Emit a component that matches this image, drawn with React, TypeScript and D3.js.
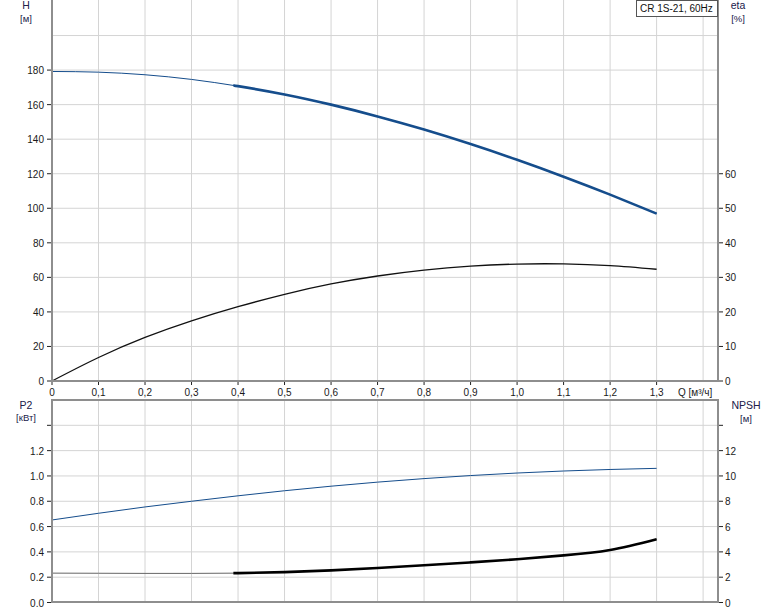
import * as d3 from "d3";

// flow rate Q [m3/h]
const flow = [0, 0.1, 0.2, 0.3, 0.4, 0.5, 0.6, 0.7, 0.8, 0.9, 1.0, 1.1, 1.2, 1.3];
// head H [m]
const head = [179.2, 178.8, 177.3, 174.6, 170.7, 165.9, 160.0, 153.2, 145.6, 137.2, 128.1, 118.3, 107.9, 96.9];
// efficiency eta [%]
const eta = [0, 6.8, 12.6, 17.4, 21.5, 25.1, 28.1, 30.4, 32.1, 33.25, 33.85, 33.9, 33.4, 32.35];
// power P2 [kW]
const power = [0.652, 0.705, 0.755, 0.8, 0.843, 0.883, 0.919, 0.951, 0.979, 1.003, 1.023, 1.039, 1.051, 1.06];
// NPSH [m]
const npsh = [2.32, 2.31, 2.3, 2.3, 2.32, 2.4, 2.54, 2.73, 2.94, 3.17, 3.42, 3.72, 4.15, 5.0];

const xTicks = [0, 0.1, 0.2, 0.3, 0.4, 0.5, 0.6, 0.7, 0.8, 0.9, 1.0, 1.1, 1.2, 1.3];
const xGrid = [0.1, 0.2, 0.3, 0.4, 0.5, 0.6, 0.7, 0.8, 0.9, 1.0, 1.1, 1.2, 1.3, 1.4];
const headTicks = [0, 20, 40, 60, 80, 100, 120, 140, 160, 180];
const headGrid = [20, 40, 60, 80, 100, 120, 140, 160, 180, 200];
const etaTicks = [0, 10, 20, 30, 40, 50, 60];
const powerTicks = [0, 0.2, 0.4, 0.6, 0.8, 1.0, 1.2, 1.4];
const npshTicks = [0, 2, 4, 6, 8, 10, 12, 14];

const title = "CR 1S-21, 60Hz";
const dutyStart = 0.39;

const W = 774;
const H = 611;
const left = 52;
const right = 718;

const font = "Arial, 'Liberation Sans', sans-serif";
const axisGrey = "#8e8e8e";
const gridGrey = "#d4d4d4";
const labelInk = "#20204a";
const blue = "#154d8c";

export default function App() {
  const x = d3.scaleLinear().domain([0, 1.432]).range([left, right]);
  const yH = d3.scaleLinear().domain([0, 220]).range([381, 1]);
  const yEta = d3.scaleLinear().domain([0, 110]).range([381, 1]);
  const yP = d3.scaleLinear().domain([0, 1.6]).range([602.5, 400]);
  const yN = d3.scaleLinear().domain([0, 16]).range([602.5, 400]);

  const line = (ys: number[], y: d3.ScaleLinear<number, number>) =>
    d3
      .line<number>()
      .x((_, i) => x(flow[i]))
      .y((d) => y(d))
      .curve(d3.curveNatural)(ys) as string;

  const headPath = line(head, yH);
  const etaPath = line(eta, yEta);
  const powerPath = line(power, yP);
  const npshPath = line(npsh, yN);

  const fmtComma = (v: number) => (v === 0 ? "0" : d3.format(".1f")(v).replace(".", ","));

  return (
    <svg
      width={W}
      height={H}
      style={{ position: "absolute", left: 0, top: 0, display: "block", background: "#fff" }}
      fontFamily={font}
    >
      <defs>
        <clipPath id="duty">
          <rect x={x(dutyStart)} y={0} width={right - x(dutyStart)} height={H} />
        </clipPath>
      </defs>

      {/* grids */}
      <g stroke={gridGrey} strokeWidth={1}>
        {xGrid.map((v) => (
          <line key={"tv" + v} x1={x(v)} x2={x(v)} y1={0} y2={381} />
        ))}
        {headGrid.map((v) => (
          <line key={"th" + v} x1={left} x2={right} y1={yH(v)} y2={yH(v)} />
        ))}
        {xGrid.map((v) => (
          <line key={"bv" + v} x1={x(v)} x2={x(v)} y1={400} y2={602} />
        ))}
        {powerTicks.slice(1).map((v) => (
          <line key={"bh" + v} x1={left} x2={right} y1={yP(v)} y2={yP(v)} />
        ))}
      </g>

      {/* curves */}
      <path d={etaPath} fill="none" stroke="#111" strokeWidth={1.3} />
      <path d={headPath} fill="none" stroke={blue} strokeWidth={1} />
      <path d={headPath} fill="none" stroke={blue} strokeWidth={2.6} clipPath="url(#duty)" />
      <path d={powerPath} fill="none" stroke={blue} strokeWidth={1} />
      <path d={npshPath} fill="none" stroke="#666" strokeWidth={1} />
      <path d={npshPath} fill="none" stroke="#000" strokeWidth={2.6} clipPath="url(#duty)" />

      {/* axes frames */}
      <g stroke={axisGrey} strokeWidth={2} fill="none">
        <line x1={left} x2={left} y1={0} y2={382} />
        <line x1={right} x2={right} y1={0} y2={382} />
        <line x1={left - 1} x2={right + 1} y1={381} y2={381} />
        <line x1={left} x2={left} y1={399} y2={603} />
        <line x1={right} x2={right} y1={399} y2={603} />
        <line x1={left - 1} x2={right + 1} y1={400} y2={400} />
        <line x1={left - 1} x2={right + 1} y1={602} y2={602} />
      </g>

      {/* ticks */}
      <g stroke="#222" strokeWidth={1}>
        {headTicks.map((v) => (
          <line key={"lt" + v} x1={left - 5} x2={left - 1} y1={yH(v)} y2={yH(v)} />
        ))}
        {etaTicks.map((v) => (
          <line key={"rt" + v} x1={right + 1} x2={right + 5} y1={yEta(v)} y2={yEta(v)} />
        ))}
        {xTicks.map((v) => (
          <line key={"xt" + v} x1={x(v)} x2={x(v)} y1={382} y2={385} />
        ))}
        {powerTicks.map((v) => (
          <line key={"pt" + v} x1={left - 5} x2={left - 1} y1={yP(v)} y2={yP(v)} />
        ))}
        {npshTicks.map((v) => (
          <line key={"nt" + v} x1={right + 1} x2={right + 5} y1={yN(v)} y2={yN(v)} />
        ))}
      </g>

      {/* tick labels */}
      <g fontSize={10} fill="#1a1a1a">
        {headTicks.map((v) => (
          <text key={"ll" + v} x={left - 8} y={yH(v) + 4} textAnchor="end">
            {v}
          </text>
        ))}
        {etaTicks.map((v) => (
          <text key={"rl" + v} x={right + 7} y={yEta(v) + 4}>
            {v}
          </text>
        ))}
        {xTicks.map((v) => (
          <text key={"xl" + v} x={x(v)} y={396} textAnchor="middle">
            {fmtComma(v)}
          </text>
        ))}
        {powerTicks.slice(0, -1).map((v) => (
          <text key={"pl" + v} x={left - 8} y={yP(v) + 4} textAnchor="end">
            {d3.format(".1f")(v)}
          </text>
        ))}
        {npshTicks.slice(0, -1).map((v) => (
          <text key={"nl" + v} x={right + 7} y={yN(v) + 4}>
            {v}
          </text>
        ))}
        <text x={678} y={396}>
          Q [м³/ч]
        </text>
      </g>

      {/* axis names */}
      <g fontSize={10.5} fill={labelInk} textAnchor="middle">
        <text x={26} y={9}>H</text>
        <text x={26} y={22} fontSize={9.5}>[м]</text>
        <text x={738} y={9}>eta</text>
        <text x={738} y={22} fontSize={9.5}>[%]</text>
        <text x={26} y={409}>P2</text>
        <text x={26} y={421} fontSize={9.5}>[кВт]</text>
        <text x={746} y={409}>NPSH</text>
        <text x={746} y={422} fontSize={9.5}>[м]</text>
      </g>

      {/* title box */}
      <rect x={636.5} y={0.5} width={81} height={16} fill="#fff" stroke="#555" strokeWidth={1} />
      <text x={640} y={12} fontSize={10} fill="#111">
        {title}
      </text>
    </svg>
  );
}
